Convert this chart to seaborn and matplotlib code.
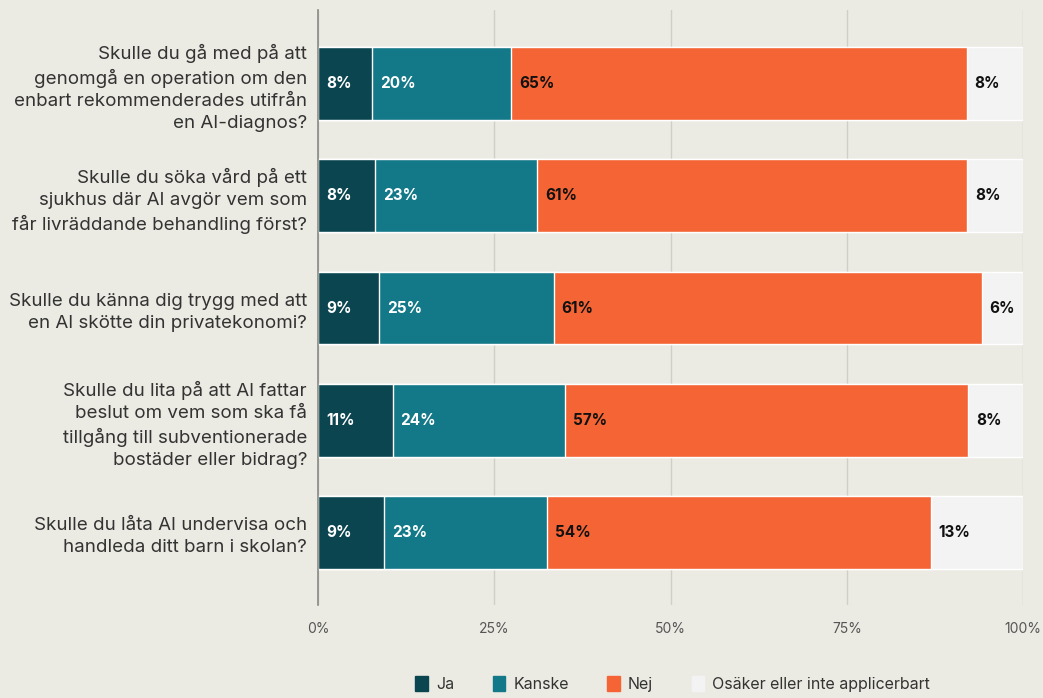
import numpy as np
import pandas as pd
import matplotlib
matplotlib.use("Agg")
import matplotlib.pyplot as plt
import seaborn as sns

# Frågor och andelar (%)
fragor = [
    "Skulle du gå med på att\ngenomgå en operation om den\nenbart rekommenderades utifrån\nen AI-diagnos?",
    "Skulle du söka vård på ett\nsjukhus där AI avgör vem som\nfår livräddande behandling först?",
    "Skulle du känna dig trygg med att\nen AI skötte din privatekonomi?",
    "Skulle du lita på att AI fattar\nbeslut om vem som ska få\ntillgång till subventionerade\nbostäder eller bidrag?",
    "Skulle du låta AI undervisa och\nhandleda ditt barn i skolan?",
]
serier = ["Ja", "Kanske", "Nej", "Osäker eller inte applicerbart"]
ja = [7.7, 8.1, 8.7, 10.6, 9.4]
kanske = [19.7, 23.0, 24.7, 24.4, 23.1]
nej = [64.6, 61.0, 60.7, 57.2, 54.4]
osaker = [8.0, 7.9, 5.9, 7.8, 13.1]
farger = ["#0b4650", "#137887", "#f46434", "#f3f3f3"]
textfarger = ["white", "white", "#111111", "#111111"]

bg = "#ecebe3"
sns.set_theme(style="white")
plt.rcParams["font.family"] = ["Inter", "DejaVu Sans"]

df = pd.DataFrame({"fraga": fragor, "Ja": ja, "Kanske": kanske, "Nej": nej, "Osäker eller inte applicerbart": osaker})
varden = df[serier].to_numpy()
kum = np.cumsum(varden, axis=1)

fig = plt.figure(figsize=(10.43, 6.98), dpi=100, facecolor=bg)
ax = fig.add_axes([0.305, 0.133, 0.676, 0.853])
ax.set_facecolor(bg)

# rita kumulativa staplar bakifrån
for i in reversed(range(len(serier))):
    sns.barplot(x=kum[:, i], y=df["fraga"], color=farger[i], width=0.65,
                orient="h", ax=ax, saturation=1, zorder=2)

# etiketter
for r in range(len(fragor)):
    for i in range(len(serier)):
        start = kum[r, i] - varden[r, i]
        ax.text(start + 1.1, r, f"{round(varden[r, i]):.0f}%", va="center", ha="left",
                color=textfarger[i], fontsize=11, fontweight="bold", zorder=3)

ax.set_xlim(0, 100)
ax.set_ylim(4.65, -0.66)
ax.set_xticks([0, 25, 50, 75, 100])
ax.set_xticklabels(["0%", "25%", "50%", "75%", "100%"], fontsize=10, color="#555555")
ax.tick_params(axis="y", labelsize=13.5, labelcolor="#333333", length=0, pad=8)
ax.tick_params(axis="x", length=0, pad=12)
for lab in ax.get_yticklabels():
    lab.set_horizontalalignment("right")
    lab.set_linespacing(1.38)
ax.set_xlabel("")
ax.set_ylabel("")
ax.grid(axis="x", color="#cfcec7", linewidth=1, zorder=0)
for s in ["top", "right", "bottom"]:
    ax.spines[s].set_visible(False)
ax.spines["left"].set_color("#8a8a86")
ax.spines["left"].set_linewidth(1.2)

handles = [plt.Rectangle((0, 0), 1, 1, color=c) for c in farger]
fig.legend(handles, serier, loc="lower center", bbox_to_anchor=(0.645, -0.012), ncol=4,
           frameon=False, fontsize=11.5, handlelength=0.8, handleheight=1.0,
           columnspacing=2.4, handletextpad=0.5, labelcolor="#333333")

fig.savefig("out.png", dpi=100, facecolor=bg)
